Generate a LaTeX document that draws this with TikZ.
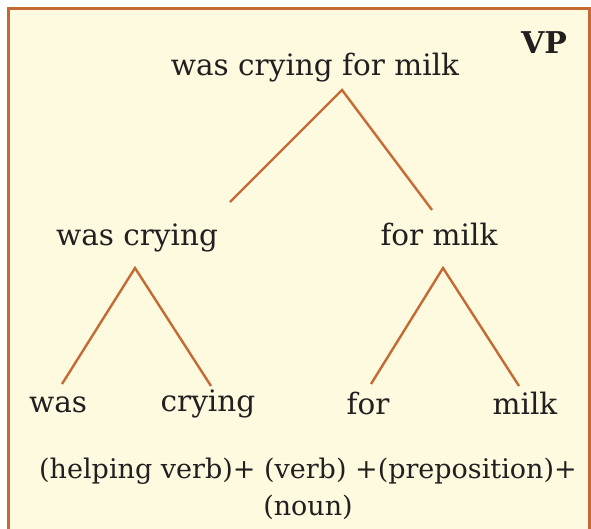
\documentclass[tikz,border=0pt]{standalone}
\usepackage{fontspec}
\setmainfont{DejaVu Serif}
\definecolor{boxBrown}{RGB}{198,106,52}
\definecolor{boxCream}{RGB}{253,250,224}
\definecolor{inkGrey}{RGB}{35,31,32}
\tikzset{
    branch/.style={draw=boxBrown,line width=2.4pt},
    word/.style={anchor=base,inner sep=0pt,text=inkGrey,font=\fontsize{29.5}{35}\selectfont},
    gloss/.style={word,font=\fontsize{27}{33}\selectfont},
    tag/.style={word,font=\fontsize{30}{36}\selectfont\bfseries}
}

\begin{document}
\begin{tikzpicture}[x=1pt,y=-1pt]
  \useasboundingbox (0,0) rectangle (591,528);
  \clip (0,0) rectangle (591,528);
  \draw[boxBrown,line width=3pt,fill=boxCream] (8.5,8.5) rectangle (589,545);

  % the phrases
  \node[tag]  (vp)     at (544,53)  {VP};
  \node[word] (root)   at (315,75)  {was crying for milk};
  \node[word] (wc)     at (137,245) {was crying};
  \node[word] (fm)     at (439,245) {for milk};
  \node[word] (was)    at (58,412)  {was};
  \node[word] (crying) at (208,411) {crying};
  \node[word] (for)    at (368,414) {for};
  \node[word] (milk)   at (525,414) {milk};
  \node[gloss] (pos)   at (308,478) {(helping\ verb)+\ (verb)\ +(preposition)+};
  \node[gloss] (noun)  at (308,515) {(noun)};

  % branch ends
  \coordinate (root-top) at (342,90);
  \coordinate (wc-end)   at (230,202);
  \coordinate (fm-end)   at (432,210);
  \coordinate (wc-top)   at (135,268);
  \coordinate (was-end)  at (62,384);
  \coordinate (cry-end)  at (211,386);
  \coordinate (fm-top)   at (443,268);
  \coordinate (for-end)  at (371,384);
  \coordinate (milk-end) at (519,386);

  \draw[branch] (wc-end) -- (root-top) -- (fm-end);
  \draw[branch] (was-end) -- (wc-top) -- (cry-end);
  \draw[branch] (for-end) -- (fm-top) -- (milk-end);
\end{tikzpicture}
\end{document}
